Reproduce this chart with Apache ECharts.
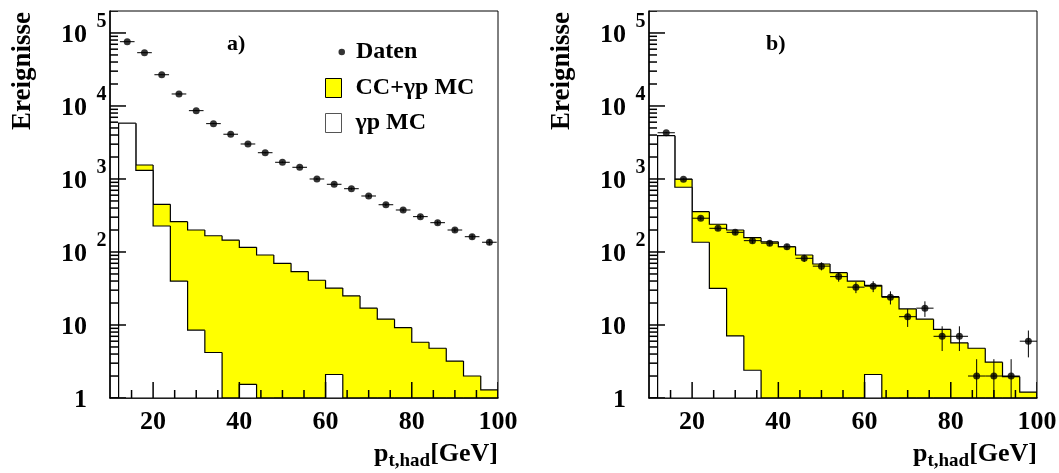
<!DOCTYPE html>
<html><head><meta charset="utf-8">
<script src="https://cdn.jsdelivr.net/npm/echarts@6/dist/echarts.min.js"></script>
<style>html,body{margin:0;padding:0;background:#fff}#c{width:1059px;height:473px}</style>
</head><body><div id="c"></div>
<script>
// ---- data ----
const binEdges   = [12,16,20,24,28,32,36,40,44,48,52,56,60,64,68,72,76,80,84,88,92,96,100];
const binCenters = [14,18,22,26,30,34,38,42,46,50,54,58,62,66,70,74,78,82,86,90,94,98];

// panel a)
const mcTotalA = [5800,1555,450,260,200,167,145,116,91,70,54,41,32,25,17,12,9.2,5.8,4.8,3.2,2.0,1.29];
const mcGpA    = [5800,1315,227,40,8.5,4.2,0,1.54,0,0,0,0,2.1,0,0,0,0,0,0,0,0,0];
const datenA   = [76000,53700,26800,14600,8630,5730,4100,3015,2290,1693,1446,1000,846,736,585,444,376,305,252,200,162,136];
const datenErrA= [276,232,164,121,93,76,64,55,48,41,38,32,29,27,24,21,19,17,16,14,13,12];
const xErrA = 1.7;

// panel b)
const mcTotalB = [3920,1000,357,240,200,157,138,118,91,68.5,52,40,35,24.4,16.6,12,8.7,5.7,4.8,3.1,1.96,1.2];
const mcGpB    = [3920,770,136,31.8,7.1,2.4,0,0,0,0,0,0,2.1,0,0,0,0,0,0,0,0,0];
const datenB   = [4300,990,290,211,186,143,132,118,82,64,46,33,34,24,13,17,7,7,2,2,2,6];
const datenErrB= [66,31,17,14.5,13.6,12,11.5,10.9,9.1,8,6.8,5.7,5.8,4.9,3.6,4.1,2.6,2.6,1.4,1.4,1.4,2.4];
const xErrB = 2;

// axis ticks
const xMajorTicks = [20,40,60,80,100];
const xMinorTicks = [15,25,30,35,45,50,55,65,70,75,85,90,95];
const yMajorTicks = [1,10,100,1000,10000,100000];
const yMinorTicks = [2,3,4,5,6,7,8,9,20,30,40,50,60,70,80,90,200,300,400,500,600,700,800,900,
  2000,3000,4000,5000,6000,7000,8000,9000,20000,30000,40000,50000,60000,70000,80000,90000,200000];
const Y_MIN = 1, Y_MAX = 200000, X_MIN = 10, X_MAX = 100;

const FONT = 'Liberation Serif';
const chart = echarts.init(document.getElementById('c'));

function histData(vals){
  return vals.map((v,i)=>[binEdges[i], binEdges[i+1], Math.max(v,Y_MIN),
    i>0 ? Math.max(vals[i-1],Y_MIN) : Y_MIN, i===vals.length-1 ? 1 : 0]);
}
function histSeries(name, vals, fill, idx, z){
  return {type:'custom', name, xAxisIndex:idx, yAxisIndex:idx, z, clip:true, silent:true,
    data: histData(vals), encode:{x:[0,1], y:2},
    renderItem(params, api){
      const x0=api.value(0), x1=api.value(1), v=api.value(2), vp=api.value(3), last=api.value(4);
      const tl=api.coord([x0,v]), br=api.coord([x1,Y_MIN]), pp=api.coord([x0,vp]);
      const children=[];
      if (v>Y_MIN) {
        const rx=Math.round(tl[0]), ry=Math.round(tl[1]);
        children.push({type:'rect', shape:{x:rx, y:ry, width:Math.round(br[0])-rx, height:Math.round(br[1])-ry}, style:{fill:fill}});
      }
      const pts=[[tl[0],pp[1]],[tl[0],tl[1]],[br[0],tl[1]]];
      if (last) pts.push([br[0],br[1]]);
      children.push({type:'polyline', shape:{points:pts}, style:{stroke:'#000', lineWidth:1.2, fill:null}});
      return {type:'group', children};
    }};
}
function dataSeries(vals, idx){
  return {type:'scatter', name:'Daten', xAxisIndex:idx, yAxisIndex:idx, z:12, silent:true,
    symbol:'circle', symbolSize:7, itemStyle:{color:'#000'},
    data: binCenters.map((x,i)=>[x, vals[i]])};
}
function errSeries(vals, errs, xerr, idx){
  return {type:'custom', name:'Fehler', xAxisIndex:idx, yAxisIndex:idx, z:11, clip:true, silent:true,
    data: binCenters.map((x,i)=>[x, vals[i], xerr, errs[i]]), encode:{x:0, y:1},
    renderItem(params, api){
      const x=api.value(0), y=api.value(1), dx=api.value(2), dy=api.value(3);
      const l=api.coord([x-dx,y]), r=api.coord([x+dx,y]);
      const lo=api.coord([x, Math.max(y-dy, 0.01)]), hi=api.coord([x, y+dy]);
      return {type:'group', children:[
        {type:'line', shape:{x1:l[0],y1:l[1],x2:r[0],y2:r[1]}, style:{stroke:'#000', lineWidth:1}},
        {type:'line', shape:{x1:lo[0],y1:lo[1],x2:hi[0],y2:hi[1]}, style:{stroke:'#000', lineWidth:1}}
      ]};
    }};
}
// tick marks (inside the frame, ROOT style), placed through the axes' scales
function tickSeries(idx){
  const data = [];
  xMajorTicks.forEach(v=>data.push([v, Y_MIN, 16, 0]));
  xMinorTicks.forEach(v=>data.push([v, Y_MIN, 8, 0]));
  yMajorTicks.forEach(v=>data.push([X_MIN, v, 16, 1]));
  yMinorTicks.forEach(v=>data.push([X_MIN, v, 8, 1]));
  return {type:'custom', name:'Achsenstriche', xAxisIndex:idx, yAxisIndex:idx, z:11, clip:true, silent:true,
    data, encode:{x:0, y:1},
    renderItem(params, api){
      const x=api.value(0), y=api.value(1), len=api.value(2), dir=api.value(3);
      const p=api.coord([x, y]);
      const children = dir < 0.5
        ? [{type:'line', shape:{x1:p[0], y1:p[1], x2:p[0], y2:p[1]-len}, style:{stroke:'#000', lineWidth:1.5}}]
        : [{type:'line', shape:{x1:p[0], y1:p[1], x2:p[0]+len, y2:p[1]}, style:{stroke:'#000', lineWidth:1.5}}];
      return {type:'group', children};
    }};
}
function yLabel(v){
  const e=Math.round(Math.log10(v));
  if (Math.abs(Math.pow(10,e)-v) > 1e-6*v) return '';
  if (e===0) return '{b|1}{e| }';
  if (e===1) return '{b|10}{e| }';
  return '{b|10}{e|'+e+'}';
}
const yRich = {
  b:{fontFamily:FONT, fontWeight:'bold', fontSize:26, lineHeight:26, color:'#000'},
  e:{fontFamily:FONT, fontWeight:'bold', fontSize:20, lineHeight:20, width:11, align:'left', padding:[0,0,27,9], color:'#000'}
};
const nameRich = {
  m:{fontFamily:FONT, fontWeight:'bold', fontSize:26, lineHeight:30, color:'#000'},
  s:{fontFamily:FONT, fontWeight:'bold', fontSize:19, lineHeight:19, padding:[15,0,0,0], color:'#000'}
};
const axisLineStyle = {color:'#000', width:1.5};

function xAxis(g){
  return {gridIndex:g, type:'value', min:X_MIN, max:X_MAX, position:'bottom',
    axisLine:{show:true, onZero:false, lineStyle:axisLineStyle},
    axisTick:{show:false},
    axisLabel:{customValues:xMajorTicks, margin:11, fontFamily:FONT, fontWeight:'bold', fontSize:26, color:'#000'},
    splitLine:{show:false},
    name:'{m|p}{s|t,had}{m|[GeV]}', nameLocation:'end', nameGap:0,
    nameTextStyle:{align:'right', verticalAlign:'top', padding:[41,0,0,0], rich:nameRich}};
}
function yAxis(g){
  return {gridIndex:g, type:'log', logBase:10, min:Y_MIN, max:Y_MAX, position:'left',
    axisLine:{show:true, onZero:false, lineStyle:axisLineStyle},
    axisTick:{show:false},
    axisLabel:{formatter:yLabel, rich:yRich, margin:3, padding:[5,0,0,0], showMaxLabel:false},
    splitLine:{show:false}, minorTick:{show:false}};
}

const legendText = {fontFamily:FONT, fontWeight:'bold', fontSize:24, color:'#000'};
const option = {
  backgroundColor:'#fff',
  animation:false,
  grid:[
    {left:110, top:11, width:388, height:387, show:true, borderColor:'#000', borderWidth:1, backgroundColor:'transparent', z:40, outerBoundsMode:'none'},
    {left:649, top:11, width:388, height:387, show:true, borderColor:'#000', borderWidth:1, backgroundColor:'transparent', z:40, outerBoundsMode:'none'}
  ],
  xAxis:[xAxis(0), xAxis(1)],
  yAxis:[yAxis(0), yAxis(1)],
  legend:[
    {left:338.5, top:40, padding:0, itemWidth:6.5, itemHeight:6.5, selectedMode:false,
      data:[{name:'Daten', icon:'circle', itemStyle:{color:'#000'}}],
      textStyle:Object.assign({padding:[0,0,0,6]}, legendText)},
    {left:325, top:76, padding:0, orient:'vertical', itemWidth:16, itemHeight:19, itemGap:11, selectedMode:false,
      data:[{name:'CC+γp MC', icon:'rect', itemStyle:{color:'#ffff00', borderColor:'#000', borderWidth:1}},
            {name:'γp MC', icon:'rect', itemStyle:{color:'#ffffff', borderColor:'#555', borderWidth:1}}],
      textStyle:Object.assign({padding:[0,0,0,9]}, legendText)}
  ],
  graphic:[
    {type:'text', x:23, y:12, rotation:Math.PI/2, style:{text:'Ereignisse', fontFamily:FONT, fontWeight:'bold', fontSize:27, fill:'#000', align:'right', verticalAlign:'middle'}},
    {type:'text', x:562, y:12, rotation:Math.PI/2, style:{text:'Ereignisse', fontFamily:FONT, fontWeight:'bold', fontSize:27, fill:'#000', align:'right', verticalAlign:'middle'}},
    {type:'text', x:227, y:44, style:{text:'a)', fontFamily:FONT, fontWeight:'bold', fontSize:22, fill:'#000', verticalAlign:'middle'}},
    {type:'text', x:766, y:44, style:{text:'b)', fontFamily:FONT, fontWeight:'bold', fontSize:22, fill:'#000', verticalAlign:'middle'}}
  ],
  series:[
    histSeries('CC+γp MC', mcTotalA, '#ffff00', 0, 2),
    histSeries('γp MC', mcGpA, '#ffffff', 0, 3),
    errSeries(datenA, datenErrA, xErrA, 0),
    dataSeries(datenA, 0),
    tickSeries(0),
    histSeries('CC+γp MC', mcTotalB, '#ffff00', 1, 2),
    histSeries('γp MC', mcGpB, '#ffffff', 1, 3),
    errSeries(datenB, datenErrB, xErrB, 1),
    dataSeries(datenB, 1),
    tickSeries(1)
  ]
};
chart.setOption(option);
</script></body></html>
